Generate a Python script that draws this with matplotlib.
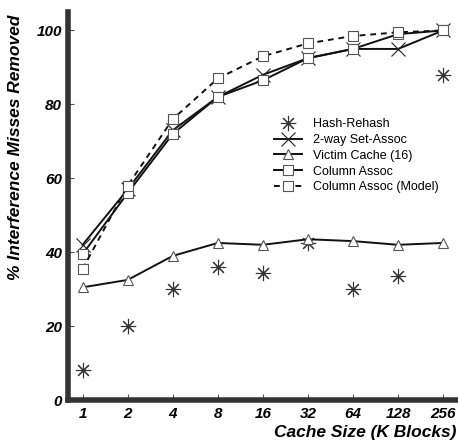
import numpy as np
import matplotlib
matplotlib.use("Agg")
import matplotlib.pyplot as plt

plt.rcParams['font.family'] = ['Liberation Sans', 'DejaVu Sans']

sizes = ["1", "2", "4", "8", "16", "32", "64", "128", "256"]
hash_rehash = [8, 20, 30, 36, 34.5, 42.5, 30, 33.5, 88]
two_way = [42, 57, 73, 82, 88, 92.5, 95, 95, 100]
victim = [30.5, 32.5, 39, 42.5, 42, 43.5, 43, 42, 42.5]
column = [39.5, 56, 72, 82, 86.5, 92.5, 95, 99, 100]
column_model = [35.5, 58, 76, 87, 93, 96.5, 98.5, 99.5, 100]

x = np.arange(len(sizes))

fig = plt.figure(figsize=(4.58, 4.43), dpi=100)
ax = fig.add_axes([0.148, 0.097, 0.852, 0.876])

mk = dict(markersize=7.5, markerfacecolor="white", markeredgecolor="#555555", markeredgewidth=0.8)
ax.plot(x, hash_rehash, linestyle="none", marker=(8, 2, 0), markersize=11,
        markeredgecolor="#333333", markeredgewidth=0.8, label="Hash-Rehash")
ax.plot(x, two_way, color="#111111", lw=1.4, marker="x", markersize=10,
        markeredgecolor="#222222", markeredgewidth=0.8, label="2-way Set-Assoc")
ax.plot(x, victim, color="#111111", lw=1.4, marker="^", label="Victim Cache (16)", **mk)
ax.plot(x, column, color="#111111", lw=1.4, marker="s", label="Column Assoc", **mk)
ax.plot(x, column_model, color="#111111", lw=1.4, ls=(0, (3, 2.5)), marker="s",
        label="Column Assoc (Model)", **mk)

ax.set_xlim(-0.33, 8.33)
ax.set_ylim(0, 105)
ax.set_xticks(x)
ax.set_xticklabels(sizes)
ax.set_yticks([0, 20, 40, 60, 80, 100])

for s in ["top", "right"]:
    ax.spines[s].set_visible(False)
for s in ["left", "bottom"]:
    ax.spines[s].set_linewidth(4)
    ax.spines[s].set_color("#333333")

ax.tick_params(direction="in", length=4, width=0.8, color="#555555")
ax.tick_params(axis="y", pad=4)
ax.tick_params(axis="x", pad=5)
for lab in ax.get_xticklabels() + ax.get_yticklabels():
    lab.set_fontweight("bold")
    lab.set_fontstyle("italic")
    lab.set_fontsize(11)

ax.set_ylabel("% Interference Misses Removed", fontsize=12.5, fontweight="bold",
              fontstyle="italic")
ax.yaxis.set_label_coords(-0.115, 0.65)
ax.set_xlabel("Cache Size (K Blocks)", fontsize=12.5, fontweight="bold",
              fontstyle="italic", ha="right")
ax.xaxis.set_label_coords(0.995, -0.065)

ax.legend(loc="upper left", bbox_to_anchor=(0.5, 0.755), frameon=False,
          fontsize=9, handlelength=2.2, labelspacing=0.3, handletextpad=0.9)

fig.savefig("out.png", dpi=100)
